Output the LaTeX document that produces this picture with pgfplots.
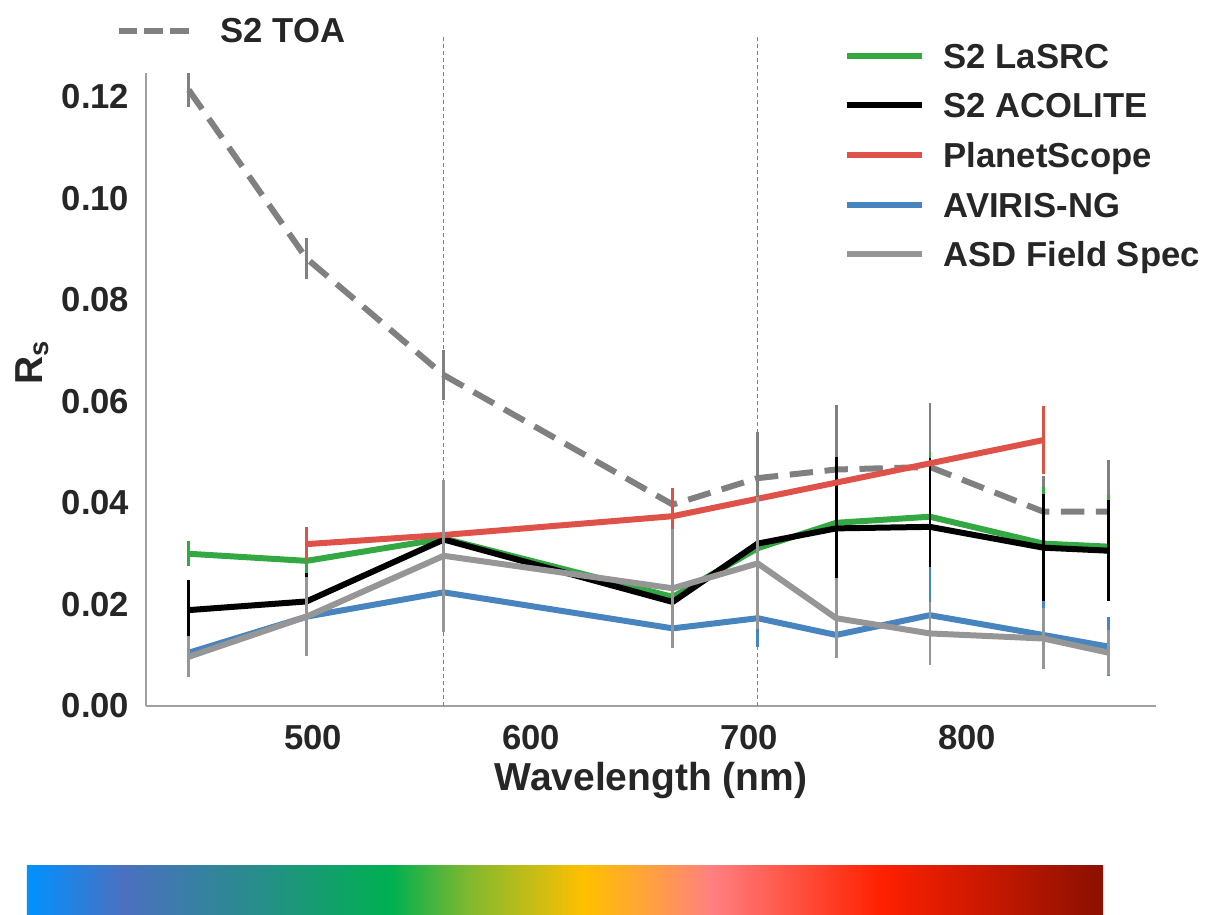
\documentclass[border=0pt]{standalone}
\usepackage{fontspec}
\setmainfont{Liberation Sans}
\usepackage{pgfplots}
\pgfplotsset{compat=1.18}

\definecolor{lasrc}{RGB}{52,168,66}
\definecolor{acolite}{RGB}{0,0,0}
\definecolor{planet}{RGB}{222,82,74}
\definecolor{aviris}{RGB}{72,133,190}
\definecolor{asd}{RGB}{150,150,150}
\definecolor{toa}{RGB}{128,128,128}
\definecolor{axisgray}{RGB}{160,160,160}
\definecolor{txtgray}{RGB}{38,38,38}

\definecolor{cb0}{RGB}{0,146,255}
\definecolor{cb1}{RGB}{75,112,192}
\definecolor{cb2}{RGB}{40,140,140}
\definecolor{cb3}{RGB}{0,176,80}
\definecolor{cb4}{RGB}{128,184,48}
\definecolor{cb5}{RGB}{255,192,0}
\definecolor{cb6}{RGB}{255,160,64}
\definecolor{cb7}{RGB}{255,128,128}
\definecolor{cb8}{RGB}{255,32,0}
\definecolor{cb9}{RGB}{139,16,0}
\pgfdeclarehorizontalshading{specbar}{100bp}{color(0bp)=(cb0); color(25bp)=(cb0);
  color(29.5bp)=(cb1); color(35.5bp)=(cb2); color(41.95bp)=(cb3); color(45.5bp)=(cb4);
  color(50.9bp)=(cb5); color(54bp)=(cb6); color(56.8bp)=(cb7); color(64.7bp)=(cb8);
  color(75bp)=(cb9); color(100bp)=(cb9)}

\newcommand{\tickfont}{\bfseries\fontsize{10.4}{12}\selectfont}
\newcommand{\labfont}{\bfseries\fontsize{11.7}{14}\selectfont}

\pgfplotsset{
  spec/.style={line width=1.8pt, line join=round,
    error bars/y dir=both, error bars/y explicit, error bars/error mark=none,
    error bars/error bar style={line width=0.85pt, solid}},
}

\begin{document}
\begin{tikzpicture}
\useasboundingbox (-43.8pt,-62.4pt) rectangle (318pt,211.8pt);

\shade[shading=specbar] (-35.7pt,-62.4pt) rectangle (287.1pt,-47.7pt);

\begin{axis}[at={(0,0)}, anchor=south west, scale only axis,
  width=303pt, height=189.9pt,
  xmin=423.4, xmax=886.7, ymin=0, ymax=0.12473, clip=false,
  axis x line*=bottom, axis y line*=left,
  axis line style={draw=axisgray, line width=0.6pt, -},
  major tick length=0pt,
  xtick={500,600,700,800},
  ytick={0,0.02,0.04,0.06,0.08,0.10,0.12},
  scaled y ticks=false,
  ticklabel style={font=\tickfont, text=txtgray},
  yticklabel style={xshift=-1.5pt, /pgf/number format/fixed, /pgf/number format/fixed zerofill,
    /pgf/number format/precision=2, /pgf/number format/assume math mode=true},
  xticklabel style={yshift=-2.3pt, /pgf/number format/assume math mode=true},
  xlabel={Wavelength (nm)},
  xlabel style={at={(axis description cs:0.5,0)}, anchor=base, yshift=-25.2pt, font=\labfont, text=txtgray},
  ylabel={R\textsubscript{s}},
  ylabel style={at={(axis description cs:-0.102,0.543)}, anchor=base, font=\labfont, text=txtgray},
  legend style={at={(axis description cs:0.690,1.048)}, anchor=north west,
    draw=none, fill=none, inner sep=0pt, font=\tickfont,
    row sep=7.45pt, column sep=5.7pt,
    nodes={inner sep=0pt, text height=7.45pt, text depth=0pt, text=txtgray}},
  legend cell align=left,
  legend image code/.code={\draw[#1] (0pt,0pt) -- (22.5pt,0pt);},
]
% band markers
\addplot[toa, line width=0.35pt, dash pattern=on 1.2pt off 0.9pt, forget plot]
  coordinates {(560,0) (560,0.1322)};
\addplot[toa, line width=0.35pt, dash pattern=on 1.2pt off 0.9pt, forget plot]
  coordinates {(704,0) (704,0.1322)};

% S2 TOA (legend sits in the second axis)
\addplot[toa, dash pattern=on 7pt off 3.5pt, forget plot, spec] coordinates {
(443,0.1214) +- (0,0.0033)
(497,0.0882) +- (0,0.0040)
(560,0.0652) +- (0,0.0050)
(665,0.0397) +- (0,0.0030)
(704,0.0449) +- (0,0.0091)
(740,0.0466) +- (0,0.0127)
(783,0.0471) +- (0,0.0126)
(835,0.0383) +- (0,0.0070)
(865,0.0383) +- (0,0.0102)
};

\addplot[lasrc, spec] coordinates {
(443,0.0300) +- (0,0.0025)
(497,0.0286) +- (0,0.0028)
(560,0.0330) +- (0,0.0040)
(665,0.0215) +- (0,0.0030)
(704,0.0311) +- (0,0.0060)
(740,0.0361) +- (0,0.0125)
(783,0.0373) +- (0,0.0127)
(835,0.0320) +- (0,0.0112)
(865,0.0314) +- (0,0.0102)
};
\addlegendentry{S2 LaSRC}

\addplot[acolite, spec] coordinates {
(443,0.0189) +- (0,0.0060)
(497,0.0206) +- (0,0.0056)
(560,0.0328) +- (0,0.0050)
(665,0.0205) +- (0,0.0030)
(704,0.0320) +- (0,0.0060)
(740,0.0350) +- (0,0.0141)
(783,0.0353) +- (0,0.0136)
(835,0.0312) +- (0,0.0105)
(865,0.0306) +- (0,0.0100)
};
\addlegendentry{S2 ACOLITE}

\addplot[planet, spec] coordinates {
(497,0.0319) +- (0,0.0034)
(560,0.0337) +- (0,0.0040)
(665,0.0374) +- (0,0.0055)
(835,0.0524) +- (0,0.0067)
};
\addlegendentry{PlanetScope}

\addplot[aviris, spec] coordinates {
(443,0.0105) +- (0,0.0020)
(497,0.0176) +- (0,0.0030)
(560,0.0224) +- (0,0.0040)
(665,0.0153) +- (0,0.0030)
(704,0.0173) +- (0,0.0056)
(740,0.0140) +- (0,0.0040)
(783,0.0179) +- (0,0.0095)
(835,0.0140) +- (0,0.0066)
(865,0.0117) +- (0,0.0058)
};
\addlegendentry{AVIRIS-NG}

\addplot[asd, spec] coordinates {
(443,0.0097) +- (0,0.0040)
(497,0.0176) +- (0,0.0078)
(560,0.0296) +- (0,0.0150)
(665,0.0232) +- (0,0.0117)
(704,0.0281) +- (0,0.0130)
(740,0.0173) +- (0,0.0079)
(783,0.0143) +- (0,0.0062)
(835,0.0133) +- (0,0.0060)
(865,0.0105) +- (0,0.0044)
};
\addlegendentry{ASD Field Spec}
\end{axis}

% second, empty axis that only carries the S2 TOA legend entry
\begin{axis}[at={(0,0)}, anchor=south west, scale only axis,
  width=303pt, height=189.9pt, hide axis,
  xmin=0, xmax=1, ymin=0, ymax=1,
  legend style={at={(axis description cs:-0.0307,1.0877)}, anchor=north west,
    draw=none, fill=none, inner sep=0pt, font=\tickfont,
    column sep=8.7pt,
    nodes={inner sep=0pt, text height=7.45pt, text depth=0pt, text=txtgray}},
  legend image code/.code={\draw[#1] (0pt,0pt) -- (21pt,0pt);},
]
\addlegendimage{toa, line width=1.8pt, dash pattern=on 5.6pt off 2.1pt}
\addlegendentry{S2 TOA}
\end{axis}
\end{tikzpicture}
\end{document}
